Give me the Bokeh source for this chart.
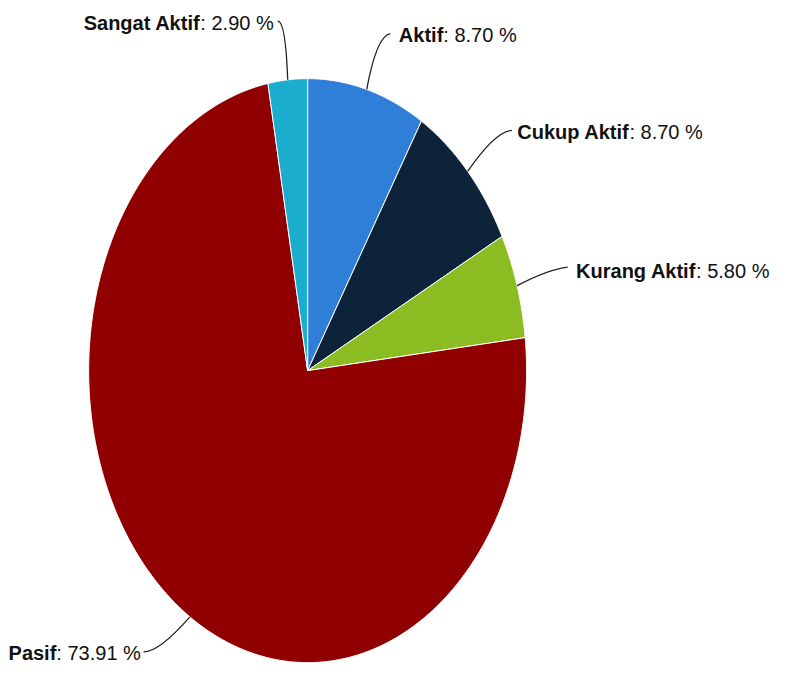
import numpy as np
from bokeh.plotting import figure
from bokeh.models import Range1d
from bokeh.embed import file_html
from bokeh.resources import INLINE
from bokeh.core.properties import value

# ---- data ----
categories = ["Aktif", "Cukup Aktif", "Kurang Aktif", "Pasif", "Sangat Aktif"]
percent = [8.70, 8.70, 5.80, 73.91, 2.90]
value_labels = [": 8.70 %", ": 8.70 %", ": 5.80 %", ": 73.91 %", ": 2.90 %"]
colors = ["#2f7ed8", "#0d233a", "#8bbc21", "#910000", "#1aadce"]

# ---- layout (reference-image coordinates, scaled into the canvas) ----
W, H = 771, 668
REF_W, REF_H = 787, 684
cx, cy, rx, ry = 313.5, 379.0, 223.5, 299.0
label_anchor_x = [398, 522, 579, 146, 283]
label_anchor_y = [34, 133, 273, 667, 21]
ctrl_x = [384, 505, 560, 162, 291]
ctrl_y = [36, 134, 275, 667, 21]
angle_nudge_deg = [0, 0, 0, -4, 0]
colon_x = [452, 642, 710, 57, 204]
text_y = [35, 135, 277, 668, 23]
FONT = "Liberation Sans, Arial, sans-serif"
FS = "20px"

p = figure(width=W, height=H, output_backend="svg", toolbar_location=None,
           x_range=Range1d(0, REF_W), y_range=Range1d(REF_H, 0),
           min_border=0, outline_line_color=None, background_fill_color="white")
p.axis.visible = False
p.grid.visible = False

vals = np.array(percent, dtype=float)
frac = vals / vals.sum()
ends = np.cumsum(frac) * 2 * np.pi
starts = ends - frac * 2 * np.pi

xs, ys = [], []
for a0, a1 in zip(starts, ends):
    t = np.linspace(a0, a1, max(int((a1 - a0) * 120), 8))
    xs.append([cx] + list(cx + rx * np.sin(t)) + [cx])
    ys.append([cy] + list(cy - ry * np.cos(t)) + [cy])

p.patches(xs, ys, fill_color=colors, line_color="white", line_width=1)

mids = (starts + ends) / 2 + np.radians(angle_nudge_deg)
end_x = cx + rx * np.sin(mids)
end_y = cy - ry * np.cos(mids)
p.quadratic(x0=label_anchor_x, y0=label_anchor_y, x1=list(end_x), y1=list(end_y),
            cx=ctrl_x, cy=ctrl_y, line_color="#222222", line_width=1.3)

p.text(x=colon_x, y=text_y, text=categories, text_align="right", text_baseline="middle",
       text_font=value(FONT), text_font_size=FS, text_font_style="bold", text_color="#111111")
p.text(x=colon_x, y=text_y, text=value_labels, text_align="left", text_baseline="middle",
       text_font=value(FONT), text_font_size=FS, text_color="#111111")

open("out.html", "w").write(file_html(p, INLINE))
